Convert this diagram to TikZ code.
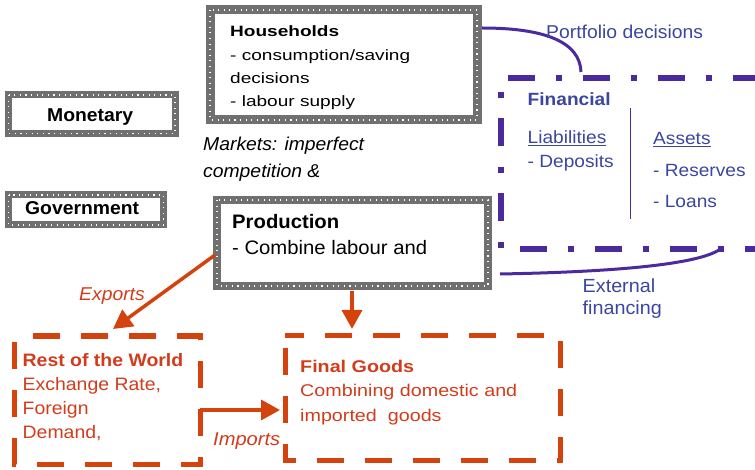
\documentclass[tikz,border=0pt]{standalone}
\usepackage{fontspec}
\setmainfont{Liberation Sans}
\newfontfamily\fa{Liberation Sans}[FakeStretch=1.04]
\newfontfamily\fr{Liberation Sans}[FakeStretch=1.08]
\newfontfamily\fg{Liberation Sans}[FakeStretch=1.16]
\newfontfamily\fh{Liberation Sans}[FakeStretch=1.27]
\usetikzlibrary{arrows.meta}
\definecolor{redline}{HTML}{D4420E}
\definecolor{redtext}{HTML}{D23C1C}
\definecolor{purpline}{HTML}{4A2A9C}
\definecolor{purptext}{HTML}{3A46A0}
\definecolor{grayline}{HTML}{707070}
\tikzset{
  graybox/.style={draw=grayline, line width=#1, fill=white,
    postaction={draw=white, line width=1.1pt, dash pattern=on 1.1pt off 4.5pt}},
  redbox/.style={draw=redline, line width=5pt, dash pattern=on 27pt off 21pt},
  purpline/.style={draw=purpline, line width=6pt, dash pattern=on 27pt off 21pt on 6pt off 21pt},
  lbl/.style={anchor=base west, inner sep=0pt},
  sA/.style={lbl, font=\fa\fontsize{18.6}{22}\selectfont},
  sP/.style={lbl, font=\fa\fontsize{19.5}{22}\selectfont},
  sH/.style={lbl, font=\fh\fontsize{15}{22}\selectfont},
  sG/.style={lbl, text=redtext, font=\fg\fontsize{17}{22}\selectfont},
  sR/.style={lbl, text=redtext, font=\fr\fontsize{18}{22}\selectfont},
  sF/.style={lbl, text=purptext, font=\fr\fontsize{17.7}{22}\selectfont},
  sE/.style={lbl, text=purptext, font=\fa\fontsize{19}{22}\selectfont},
  redarrow/.style={draw=redline, line width=3.5pt, -{Triangle[length=19pt,width=20pt]}},
  purpcurve/.style={draw=purpline, line width=3pt},
}
\begin{document}
\begin{tikzpicture}[x=1pt,y=-1pt]
\useasboundingbox (0,0) rectangle (755,470);
% gray boxes
\draw[graybox=7pt] (8.5,95) rectangle (175,133.5);
\node[sA, font=\fa\bfseries\fontsize{18.6}{22}\selectfont] (mon) at (47,122) {Monetary};
\draw[graybox=7pt] (8.5,195) rectangle (163.5,225);
\node[sA, font=\fa\bfseries\fontsize{18.6}{22}\selectfont] (gov) at (25,215) {Government};
\draw[graybox=9pt] (210,10) rectangle (477,120);
\coordinate (hhR) at (482,28);
\node[sH, font=\fh\bfseries\fontsize{15}{22}\selectfont] (hh1) at (230,37) {Households};
\node[sH] (hh2) at (230,61) {- consumption/saving};
\node[sH] (hh3) at (230,84) {decisions};
\node[sH] (hh4) at (230,107) {- labour supply};
\node[sA, font=\fa\itshape\fontsize{18.6}{22}\selectfont] (mk1) at (203,151) {Markets: imperfect};
\node[sA, font=\fa\itshape\fontsize{18.6}{22}\selectfont] (mk2) at (203,177.5) {competition \&};
\draw[graybox=8pt] (217,200) rectangle (488,286);
\node[sP, font=\fa\bfseries\fontsize{19.5}{22}\selectfont] (pr1) at (232,229) {Production};
\node[sP] (pr2) at (232,255) {- Combine labour and};
\coordinate (prodL) at (215,255);
\coordinate (prodB) at (352,291);
% financial box
\draw[purpline] (508,78) -- (755,78);
\draw[purpline, dash pattern=on 6pt off 20pt on 28pt off 21pt] (501,92.5) -- (501,250);
\draw[purpline] (520,249.5) -- (755,249.5);
\draw[purpline, line width=0.9pt, solid] (630,108) -- (630,219);
\node[sF, font=\fr\bfseries\fontsize{17.7}{22}\selectfont] (fin) at (527.5,106) {Financial};
\node[sF] (liab) at (527.5,144) {\underline{Liabilities}};
\node[sF] (dep) at (527.5,168) {- Deposits};
\node[sF] (ass) at (653,145) {\underline{Assets}};
\node[sF] (res) at (653,177) {- Reserves};
\node[sF] (loan) at (653,208) {- Loans};
\coordinate (finTop) at (581,72);
\coordinate (finBot) at (719,250);
\coordinate (prodR) at (500,274);
\draw[purpcurve] (hhR) .. controls (545,28) and (580,42) .. (finTop);
\node[sF, font=\fa\fontsize{18.6}{22}\selectfont] (port) at (546,39) {Portfolio decisions};
\draw[purpcurve] (prodR) .. controls (610,272) and (695,265) .. (finBot);
\node[sE] (ext1) at (582.5,293) {External};
\node[sE] (ext2) at (582.5,315) {financing};
% red boxes
\draw[redbox, dash phase=42pt] (14.5,336) rectangle (200,464);
\node[sR, font=\fr\bfseries\fontsize{18}{22}\selectfont] (row1) at (22.5,366) {Rest of the World};
\node[sR] (row2) at (22.5,390) {Exchange Rate,};
\node[sR] (row3) at (22.5,414) {Foreign};
\node[sR] (row4) at (22.5,438) {Demand,};
\draw[redbox, dash phase=36pt] (285,335.5) rectangle (560,460);
\node[sG, font=\fg\bfseries\fontsize{17}{22}\selectfont] (fg1) at (300,372) {Final Goods};
\node[sG] (fg2) at (300,396) {Combining domestic and};
\node[sG] (fg3) at (300,421) {imported\ \ goods};
\coordinate (rowTop) at (113,329);
\coordinate (rowR) at (200,410);
\coordinate (fgL) at (280,410);
\coordinate (fgTop) at (352,329);
\draw[redarrow] (prodL) -- (rowTop);
\node[sR, font=\fa\itshape\fontsize{18.6}{22}\selectfont] (exp) at (79,301) {Exports};
\draw[redarrow] (prodB) -- (fgTop);
\draw[redarrow] (rowR) -- (fgL);
\node[sR, font=\fr\itshape\fontsize{18.6}{22}\selectfont] (imp) at (213,445) {Imports};
\end{tikzpicture}
\end{document}
